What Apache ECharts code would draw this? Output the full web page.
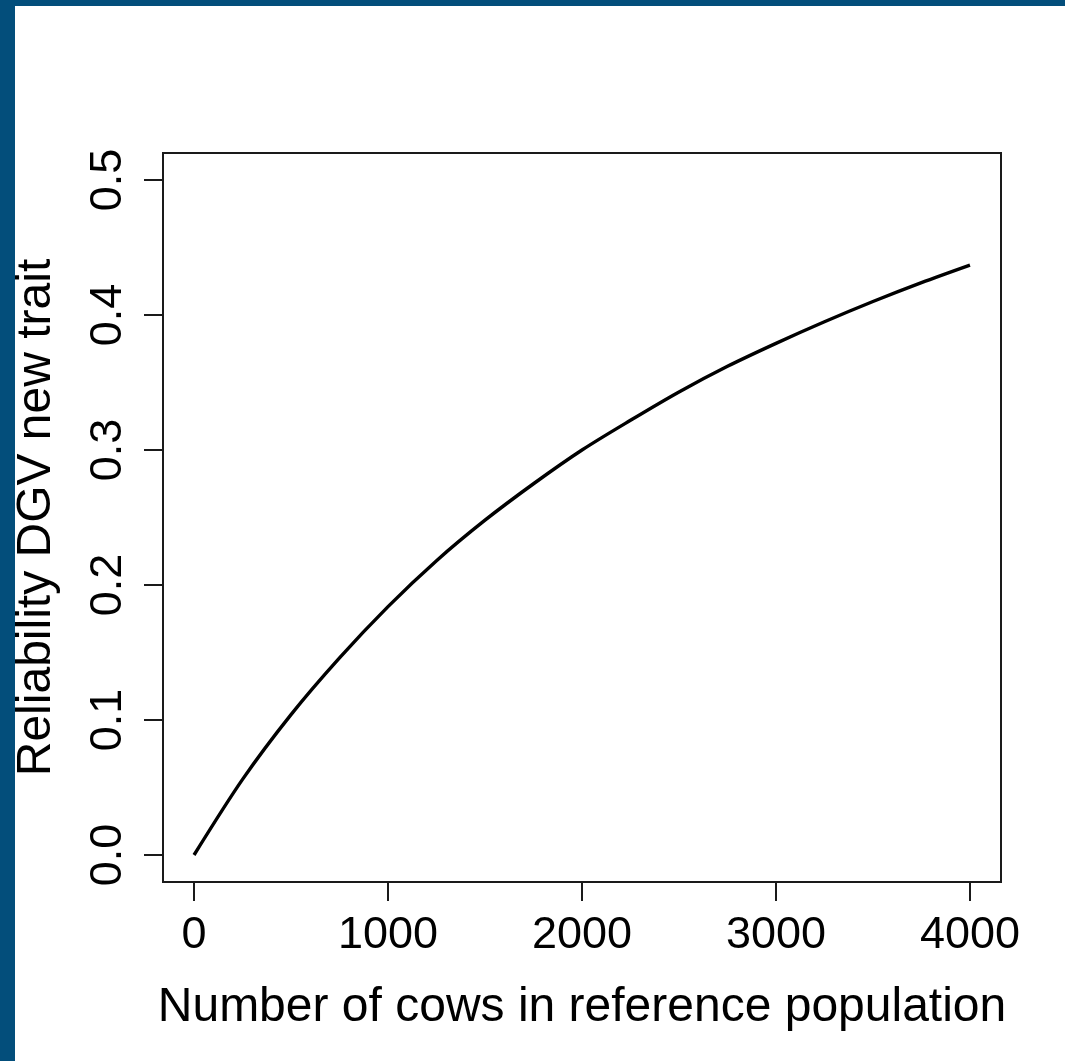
<!DOCTYPE html>
<html>
<head>
<meta charset="utf-8">
<script src="https://cdn.jsdelivr.net/npm/echarts@6/dist/echarts.min.js"></script>
<style>
  html, body { margin: 0; padding: 0; background: #034e7b; }
  #chart { position: absolute; left: 15px; top: 6px; width: 1050px; height: 1055px; background: #fff; }
</style>
</head>
<body>
<div id="chart"></div>
<script>
// values
var cows = [0, 250, 500, 750, 1000, 1250, 1500, 1750, 2000, 2250, 2500, 2750, 3000, 3250, 3500, 3750, 4000];
var reliability = [0, 0.056, 0.104, 0.146, 0.184, 0.218, 0.248, 0.275, 0.300, 0.322, 0.343, 0.362, 0.379, 0.395, 0.410, 0.424, 0.437];
var xTicks = [0, 1000, 2000, 3000, 4000];
var yTicks = [0, 0.1, 0.2, 0.3, 0.4, 0.5];

var font = "'Liberation Sans', Arial, sans-serif";
var chart = echarts.init(document.getElementById("chart"), null, { renderer: "canvas" });

var points = cows.map(function(c, i) {
  return [c, reliability[i]];
});

chart.setOption({
  animation: false,
  backgroundColor: "#ffffff",
  grid: {
    show: true,
    left: 148,
    top: 147,
    right: 64,
    bottom: 179,
    outerBoundsMode: "none",
    containLabel: false,
    borderColor: "#1a1a1a",
    borderWidth: 2,
    backgroundColor: "transparent"
  },
  xAxis: {
    type: "value",
    min: -160,
    max: 4160,
    name: "Number of cows in reference population",
    nameLocation: "middle",
    nameGap: 102,
    nameTextStyle: { fontFamily: font, fontSize: 48, color: "#000" },
    axisLine: { show: false, onZero: false },
    splitLine: { show: false },
    axisTick: { show: true, inside: false, length: 19, lineStyle: { color: "#1a1a1a", width: 2 }, customValues: xTicks },
    axisLabel: {
      customValues: xTicks,
      margin: 31,
      fontFamily: font,
      fontSize: 45,
      color: "#000",
      formatter: function(v) { return String(v); }
    }
  },
  yAxis: {
    type: "value",
    min: -0.02,
    max: 0.52,
    name: "Reliability DGV new trait",
    nameLocation: "middle",
    nameRotate: 90,
    nameGap: 102,
    nameTextStyle: { fontFamily: font, fontSize: 48, color: "#000" },
    axisLine: { show: false, onZero: false },
    splitLine: { show: false },
    axisTick: { show: true, inside: false, length: 19, lineStyle: { color: "#1a1a1a", width: 2 }, customValues: yTicks },
    axisLabel: {
      customValues: yTicks,
      rotate: 90,
      margin: 32,
      fontFamily: font,
      fontSize: 45,
      color: "#000",
      formatter: function(v) { return v.toFixed(1); }
    }
  },
  series: [
    {
      type: "line",
      data: points,
      showSymbol: false,
      smooth: 0.3,
      lineStyle: { color: "#000", width: 3.4 }
    }
  ]
});
</script>
</body>
</html>
